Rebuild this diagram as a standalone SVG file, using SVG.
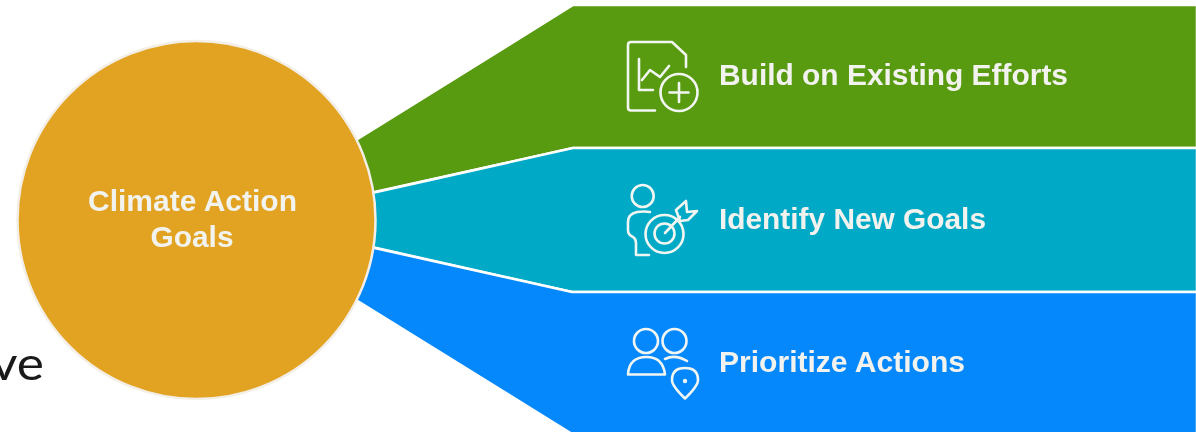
<svg xmlns="http://www.w3.org/2000/svg" width="1196" height="432" viewBox="0 0 1196 432">
<defs>
<filter id="soft" x="-5%" y="-20%" width="110%" height="140%"><feGaussianBlur stdDeviation="0.6"/></filter>
<filter id="halo" x="-5%" y="-5%" width="110%" height="110%"><feGaussianBlur stdDeviation="0.7"/></filter>
</defs>
<style>
.band{stroke:#fff;stroke-width:2.5;stroke-linejoin:round}
.lbl{font-family:"Liberation Sans",Arial,sans-serif;font-weight:700;fill:#f2f2ee}
.ic{fill:none;stroke:#f2f6f2;stroke-width:2.6;stroke-linecap:round;stroke-linejoin:round}
</style>
<rect width="1196" height="432" fill="#fff"/>
<g id="connectors">
<path class="band" fill="#589b10" d="M356 140L573 5H1197V148H573L370 193Z"/>
<path class="band" fill="#00a9c6" d="M372 193L573 148H1197V292H572L372 247Z"/>
<path class="band" fill="#0688fd" d="M370 247L572 292H1197V434H572L356 300Z"/>
</g>
<g id="root">
<circle cx="196.500" cy="220" r="179" fill="#e2a224" stroke="#f3efe6" stroke-width="2.500" filter="url(#halo)"/>
<g filter="url(#soft)">
<text class="lbl" font-size="30" text-anchor="middle" x="192.500" y="211" textLength="209" lengthAdjust="spacingAndGlyphs">Climate Action</text>
<text class="lbl" font-size="30" text-anchor="middle" x="192" y="247" textLength="83" lengthAdjust="spacingAndGlyphs">Goals</text>
</g>
</g>
<g id="build" filter="url(#soft)">
<path class="ic" d="M655 110.500H631Q628 110.500 628 107.500V45Q628 42 631 42H672L686 55V67"/>
<path class="ic" d="M639 59V90H653M642 80L650 70L660 77L669 66"/>
<circle class="ic" cx="679" cy="92.500" r="18.500"/>
<path class="ic" d="M679 83V102M669.500 92.500H688.500"/>
<text class="lbl" font-size="30" x="719" y="85" textLength="349" lengthAdjust="spacingAndGlyphs">Build on Existing Efforts</text>
</g>
<g id="identify" filter="url(#soft)">
<circle class="ic" cx="642.700" cy="196" r="11"/>
<path class="ic" d="M650 212Q644 211 637 212Q628 214 628 222V230Q628 235 633 237Q636 239 636 243V255H649"/>
<circle class="ic" cx="664.500" cy="234" r="19"/>
<circle class="ic" cx="664.500" cy="233.500" r="10"/>
<path class="ic" d="M665 233L680 217M686 201L687 212L697 211L688 220L680 221L676 210Z"/>
<text class="lbl" font-size="30" x="719" y="229" textLength="267" lengthAdjust="spacingAndGlyphs">Identify New Goals</text>
</g>
<g id="prioritize" filter="url(#soft)">
<circle class="ic" cx="646" cy="341" r="12"/>
<circle class="ic" cx="674.500" cy="341" r="12"/>
<path class="ic" d="M628 374.500Q629 357 646.500 357Q663 357 665 374.500Z"/>
<path class="ic" d="M665 359Q675 354 687 361"/>
<path class="ic" d="M685 398.500Q672 386 672 380Q672 368 685 368Q698 368 698 380Q698 386 685 398.500Z"/>
<circle cx="685" cy="381" r="2.200" fill="#f2f6f2"/>
<text class="lbl" font-size="30" x="719" y="372" textLength="246" lengthAdjust="spacingAndGlyphs">Prioritize Actions</text>
</g>
<text x="-9" y="380" font-family="Lato,'Liberation Sans',sans-serif" font-weight="400" font-size="47" fill="#1a1a1a" textLength="53" lengthAdjust="spacingAndGlyphs">ve</text>
</svg>
